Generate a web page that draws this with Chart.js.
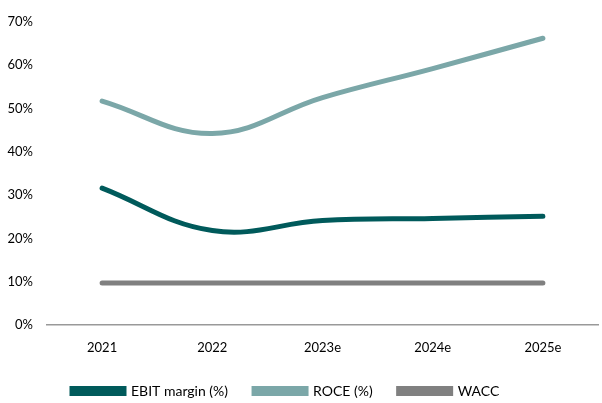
<!DOCTYPE html>
<html>
<head>
<meta charset="utf-8">
<script src="https://cdn.jsdelivr.net/npm/chart.js@4"></script>
<style>
  html, body { margin: 0; padding: 0; background: #fff; }
  #wrap { width: 602px; height: 403px; }
</style>
</head>
<body>
<div id="wrap"><canvas id="chart" width="602" height="403"></canvas></div>
<script>
const years = ['2021', '2022', '2023e', '2024e', '2025e'];
const ebitMargin = [31.6, 21.8, 24.1, 24.6, 25.1];
const roce = [51.7, 44.2, 52.5, 59.2, 66.2];
const wacc = [9.7, 9.7, 9.7, 9.7, 9.7];

const ctx = document.getElementById('chart').getContext('2d');
Chart.defaults.font.family = 'Lato, "Open Sans", sans-serif';
Chart.defaults.font.size = 13;
Chart.defaults.color = '#000';

function lineSet(label, data, color) {
    return {
        label, data,
        borderColor: color,
        backgroundColor: color,
        borderWidth: 5,
        borderCapStyle: 'round',
        pointRadius: 0,
        tension: 0.4,
        fill: false
    };
}

// nudge the legend row to the left like in the original
const legendShift = {
    id: 'legendShift',
    afterLayout(chart) {
        const lg = chart.legend;
        const w = lg.right - lg.left;
        lg.left = 46;
        lg.right = 46 + w;
    }
};

new Chart(ctx, {
    type: 'line',
    data: {
        labels: years,
        datasets: [
            lineSet('EBIT margin (%)', ebitMargin, '#005a5b'),
            lineSet('ROCE (%)', roce, '#7ba7a8'),
            lineSet('WACC', wacc, '#808080')
        ]
    },
    options: {
        responsive: false,
        animation: false,
        layout: { padding: { left: 2, right: 4, top: 16, bottom: -5 } },
        plugins: {
            tooltip: { enabled: false },
            legend: {
                position: 'bottom',
                align: 'start',
                labels: {
                    boxWidth: 52,
                    boxHeight: 5,
                    padding: 26,
                    color: '#000',
                    font: { size: 14 }
                }
            }
        },
        scales: {
            x: {
                offset: true,
                grid: { display: false, drawTicks: false },
                border: { display: true, color: '#999', width: 1.5 },
                ticks: { padding: 15, autoSkip: false, maxRotation: 0 },
                afterFit: s => { s.height = 33; }
            },
            y: {
                min: 0,
                max: 70,
                grid: { display: false, drawTicks: false },
                border: { display: false },
                ticks: {
                    stepSize: 10,
                    padding: 14,
                    callback: v => v + '%'
                },
                afterFit: s => { s.width = 45; }
            }
        }
    },
    plugins: [legendShift]
});
</script>
</body>
</html>
